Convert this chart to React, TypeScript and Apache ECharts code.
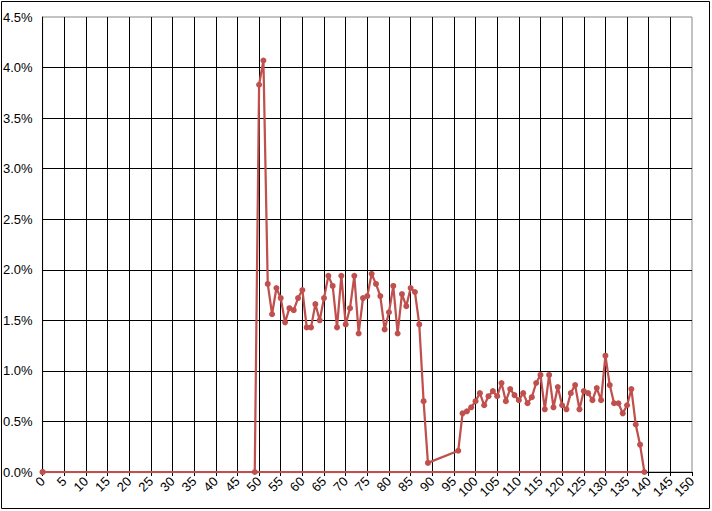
import React, { useRef, useEffect } from 'react';
import * as echarts from 'echarts';

// x positions (integer steps) and their share in percent
const xValues: number[] = [
    0, 49, 50, 51, 52, 53, 54, 55, 56, 57, 58, 59, 60, 61, 62, 63, 64, 65, 66, 67, 68, 69,
    70, 71, 72, 73, 74, 75, 76, 77, 78, 79, 80, 81, 82, 83, 84, 85, 86, 87, 88, 89,
    96, 97, 98, 99, 100, 101, 102, 103, 104, 105, 106, 107, 108, 109, 110, 111, 112, 113,
    114, 115, 116, 117, 118, 119, 120, 121, 122, 123, 124, 125, 126, 127, 128, 129, 130,
    131, 132, 133, 134, 135, 136, 137, 138, 139, 0
];

const yValues: number[] = [
    0, 0, 3.83, 4.07, 1.86, 1.56, 1.82, 1.72, 1.48, 1.62, 1.6, 1.72, 1.8, 1.43, 1.43, 1.66,
    1.5, 1.72, 1.94, 1.84, 1.43, 1.94, 1.46, 1.62, 1.94, 1.37, 1.72, 1.74, 1.96, 1.86, 1.74,
    1.41, 1.58, 1.84, 1.37, 1.76, 1.64, 1.82, 1.78, 1.46, 0.7, 0.09,
    0.21, 0.58, 0.6, 0.64, 0.7, 0.78, 0.66, 0.75, 0.8, 0.75, 0.88, 0.7, 0.82, 0.76, 0.71,
    0.78, 0.68, 0.74, 0.88, 0.96, 0.62, 0.96, 0.64, 0.84, 0.66, 0.62, 0.78, 0.86, 0.62,
    0.8, 0.78, 0.71, 0.83, 0.71, 1.15, 0.86, 0.68, 0.68, 0.58, 0.66, 0.82, 0.47, 0.27, 0, 0
];

const X_MIN = 0;
const X_MAX = 150;
const X_STEP = 5;
const Y_MIN = 0;
const Y_MAX = 4.5;
const Y_STEP = 0.5;

const FONT = 'Liberation Sans, Arial, sans-serif';

const App: React.FC = () => {
    const chartRef = useRef<HTMLDivElement>(null);

    useEffect(() => {
        if (!chartRef.current) return;
        const chart = echarts.init(chartRef.current, undefined, { renderer: 'svg' });

        const points = xValues.map((x, i) => [x, yValues[i]]);

        chart.setOption({
            animation: false,
            backgroundColor: '#ffffff',
            graphic: [
                {
                    type: 'rect',
                    shape: { x: 1.5, y: 1.5, width: 708, height: 507 },
                    style: { fill: 'none', stroke: '#000000', lineWidth: 1 },
                    silent: true
                }
            ],
            grid: {
                left: 41,
                top: 17,
                right: 20,
                bottom: 39,
                show: true,
                borderColor: '#868686',
                borderWidth: 1
            },
            xAxis: {
                type: 'value',
                min: X_MIN,
                max: X_MAX,
                interval: X_STEP,
                axisLine: { lineStyle: { color: '#000000', width: 1 } },
                axisTick: { show: true, length: 4, lineStyle: { color: '#000000' } },
                axisLabel: {
                    rotate: 45,
                    margin: 7,
                    color: '#000000',
                    fontFamily: FONT,
                    fontSize: 13,
                    showMaxLabel: true,
                    showMinLabel: true
                },
                splitLine: {
                    show: true,
                    showMaxLine: false,
                    lineStyle: { color: '#000000', width: 1 }
                }
            },
            yAxis: {
                type: 'value',
                min: Y_MIN,
                max: Y_MAX,
                interval: Y_STEP,
                axisLine: { show: true, lineStyle: { color: '#000000', width: 1 } },
                axisTick: { show: false },
                axisLabel: {
                    margin: 10,
                    color: '#000000',
                    fontFamily: FONT,
                    fontSize: 13,
                    formatter: (v: number) => v.toFixed(1) + '%'
                },
                splitLine: {
                    show: true,
                    showMaxLine: false,
                    lineStyle: { color: '#000000', width: 1 }
                }
            },
            series: [
                {
                    type: 'line',
                    data: points,
                    symbol: 'circle',
                    symbolSize: 6,
                    showAllSymbol: true,
                    lineStyle: { color: '#C0504D', width: 2.25 },
                    itemStyle: { color: '#C0504D' },
                    z: 5
                }
            ]
        });

        return () => {
            chart.dispose();
        };
    }, []);

    return (
        <div
            ref={chartRef}
            style={{ position: 'fixed', left: 0, top: 0, width: '712px', height: '511px' }}
        />
    );
};

export default App;
